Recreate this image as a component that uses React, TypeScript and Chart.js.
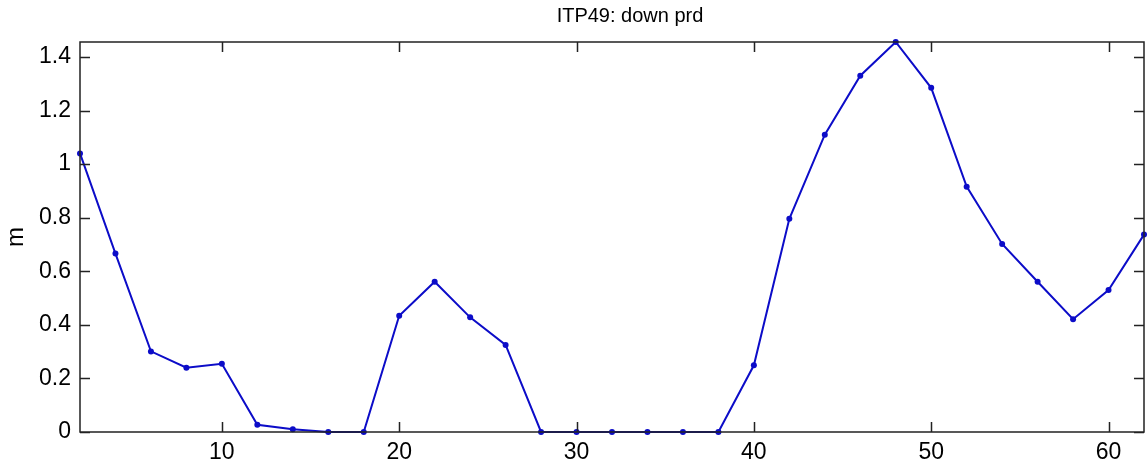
import React, { useEffect, useRef } from "react";
import { Chart, registerables } from "chart.js";

Chart.register(...registerables);

const xValues = [2, 4, 6, 8, 10, 12, 14, 16, 18, 20, 22, 24, 26, 28, 30, 32, 34, 36, 38, 40, 42, 44, 46, 48, 50, 52, 54, 56, 58, 60, 62];
const yValues = [1.04, 0.666, 0.301, 0.24, 0.255, 0.027, 0.01, 0.0, 0.0, 0.434, 0.561, 0.428, 0.325, 0.0, 0.0, 0.0, 0.0, 0.0, 0.0, 0.249, 0.796, 1.11, 1.33, 1.456, 1.285, 0.916, 0.702, 0.561, 0.421, 0.53, 0.737];
const xTicks = [10, 20, 30, 40, 50, 60];
const yTicks = [0, 0.2, 0.4, 0.6, 0.8, 1, 1.2, 1.4];
const titleText = "ITP49: down prd";
const yLabel = "m";

const FONT = "'Liberation Sans', Arial, Helvetica, sans-serif";

const framePlugin = {
  id: "frameTicks",
  afterDraw(chart: any) {
    const { ctx, chartArea } = chart;
    const { left, right, top, bottom } = chartArea;
    const xs = chart.scales.x;
    const ys = chart.scales.y;
    ctx.save();
    ctx.strokeStyle = "#222";
    ctx.lineWidth = 1.5;
    ctx.beginPath();
    ctx.rect(left, top, right - left, bottom - top);
    const tl = 10;
    xTicks.forEach((v) => {
      const px = Math.round(xs.getPixelForValue(v)) + 0.5;
      ctx.moveTo(px, bottom);
      ctx.lineTo(px, bottom - tl);
      ctx.moveTo(px, top);
      ctx.lineTo(px, top + tl);
    });
    yTicks.forEach((v) => {
      const py = Math.round(ys.getPixelForValue(v)) + 0.5;
      ctx.moveTo(left, py);
      ctx.lineTo(left + tl, py);
      ctx.moveTo(right, py);
      ctx.lineTo(right - tl, py);
    });
    ctx.stroke();
    ctx.fillStyle = "#000";
    ctx.font = `20px ${FONT}`;
    ctx.textAlign = "center";
    ctx.textBaseline = "middle";
    ctx.fillText(titleText, 630, 16);
    ctx.restore();
  },
};

export default function App() {
  const ref = useRef<HTMLCanvasElement>(null);
  useEffect(() => {
    if (!ref.current) return;
    const chart = new Chart(ref.current, {
      type: "line",
      data: {
        labels: xValues,
        datasets: [
          {
            data: xValues.map((x, i) => ({ x, y: yValues[i] })),
            borderColor: "#0c0cc8",
            backgroundColor: "#0c0cc8",
            borderWidth: 2,
            pointRadius: 3,
            pointHoverRadius: 3,
            pointBorderWidth: 0,
            tension: 0,
            clip: 4,
          },
        ],
      },
      options: {
        animation: false,
        responsive: false,
        maintainAspectRatio: false,
        layout: { padding: { top: 42, right: 1, left: 0, bottom: 0 } },
        plugins: {
          legend: { display: false },
          title: { display: false },
          tooltip: { enabled: false },
        },
        scales: {
          x: {
            type: "linear",
            min: 2,
            max: 62,
            afterBuildTicks: (scale: any) => {
              scale.ticks = xTicks.map((v) => ({ value: v }));
            },
            afterFit: (scale: any) => {
              scale.height = 37;
            },
            grid: { display: false, drawTicks: false },
            border: { display: false },
            ticks: {
              padding: 7,
              color: "#000",
              font: { family: FONT, size: 23 },
              maxRotation: 0,
              autoSkip: false,
            },
          },
          y: {
            type: "linear",
            min: 0,
            max: 1.456,
            afterBuildTicks: (scale: any) => {
              scale.ticks = yTicks.map((v) => ({ value: v }));
            },
            afterFit: (scale: any) => {
              scale.width = 80;
            },
            grid: { display: false, drawTicks: false },
            border: { display: false },
            title: {
              display: true,
              text: yLabel,
              color: "#000",
              font: { family: FONT, size: 24 },
              padding: { top: 2, bottom: 0 },
            },
            ticks: {
              padding: 9,
              color: "#000",
              font: { family: FONT, size: 23 },
              autoSkip: false,
              callback: (v: any) => String(Number(Number(v).toFixed(1))),
            },
          },
        },
      },
      plugins: [framePlugin],
    });
    return () => chart.destroy();
  }, []);
  return (
    <div style={{ position: "fixed", left: 0, top: 0, width: 1147, height: 469, background: "#fff" }}>
      <canvas ref={ref} width={1147} height={469} style={{ display: "block", width: 1147, height: 469 }} />
    </div>
  );
}
